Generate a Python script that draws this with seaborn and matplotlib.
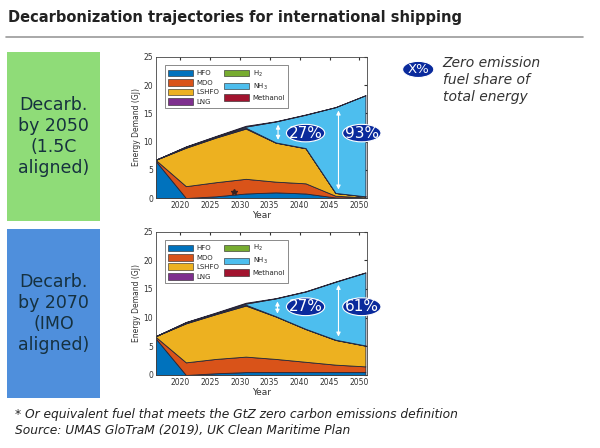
"""
Decarbonization trajectories for international shipping
Two stacked area charts (1.5C aligned vs IMO aligned)
"""

import matplotlib
matplotlib.use("Agg")
import matplotlib.pyplot as plt
from matplotlib.patches import Rectangle, Ellipse, Patch
import seaborn as sns

# ==========================================================
# Data
# ==========================================================

years = [2016, 2021, 2026, 2031, 2036, 2041, 2046, 2051]
fuels = ["HFO", "MDO", "LSHFO", "LNG", "H$_2$", "NH$_3$", "Methanol"]

# Decarb. by 2050 (1.5C aligned)
hfo_a = [6.5, 0.0, 0.3, 0.8, 1.0, 0.8, 0.1, 0.05]
mdo_a = [0.2, 2.1, 2.5, 2.6, 1.9, 1.8, 0.3, 0.05]
lshfo_a = [0.1, 6.8, 7.9, 8.9, 6.9, 6.2, 0.5, 0.2]
lng_a = [0.0, 0.1, 0.1, 0.15, 0.05, 0.05, 0.0, 0.0]
h2_a = [0.0, 0.0, 0.0, 0.0, 0.0, 0.0, 0.0, 0.0]
nh3_a = [0.0, 0.1, 0.1, 0.2, 3.7, 5.9, 15.2, 17.9]
meoh_a = [0.0, 0.05, 0.1, 0.15, 0.05, 0.05, 0.0, 0.0]

# Decarb. by 2070 (IMO aligned)
hfo_b = [6.3, 0.0, 0.3, 0.5, 0.5, 0.5, 0.5, 0.5]
mdo_b = [0.3, 2.2, 2.5, 2.7, 2.3, 1.8, 1.3, 1.0]
lshfo_b = [0.2, 6.8, 7.8, 8.9, 7.4, 5.7, 4.3, 3.6]
lng_b = [0.0, 0.1, 0.1, 0.15, 0.05, 0.05, 0.05, 0.05]
h2_b = [0.0, 0.0, 0.0, 0.0, 0.0, 0.0, 0.0, 0.0]
nh3_b = [0.0, 0.1, 0.1, 0.2, 3.1, 6.5, 10.1, 12.7]
meoh_b = [0.0, 0.05, 0.1, 0.15, 0.05, 0.05, 0.05, 0.05]

# zero emission share labels: (x, y, text), arrows: (x, y_top, y_bottom)
labels_a = [(2041.0, 11.5, "27%"), (2050.4, 11.5, "93%")]
arrows_a = [(2036.4, 13.5, 9.8), (2046.5, 16.0, 1.0)]
labels_b = [(2041.0, 11.9, "27%"), (2050.4, 11.9, "61%")]
arrows_b = [(2036.3, 13.3, 10.2), (2046.5, 16.2, 6.2)]

xticks = [2020, 2025, 2030, 2035, 2040, 2045, 2050]
yticks = [0, 5, 10, 15, 20, 25]

colors = ["#0072BD", "#D95319", "#EDB120", "#7E2F8E",
          "#77AC30", "#4DBEEE", "#A2142F"]
oval_color = "#0a2a9c"
text_color = "#16313f"

# ==========================================================
# Figure
# ==========================================================

sns.set_style("white")
plt.rcParams["font.family"] = ["DejaVu Sans"]

fig = plt.figure(figsize=(6, 4.48), dpi=100)

fig.text(0.013, 0.96, "Decarbonization trajectories for international shipping",
         fontsize=10.5, fontweight="bold", color="#222222", va="center")
fig.add_artist(plt.Line2D([0.01, 0.972], [0.918, 0.918],
                          color="#9a9a9a", lw=1.2))

# side boxes
fig.add_artist(Rectangle((0.012, 0.507), 0.155, 0.377,
                         facecolor="#8fdc78", edgecolor="none"))
fig.add_artist(Rectangle((0.012, 0.112), 0.155, 0.377,
                         facecolor="#4f8fdc", edgecolor="none"))
fig.text(0.089, 0.695, "Decarb.\nby 2050\n(1.5C\naligned)", ha="center",
         va="center", fontsize=12.5, color=text_color, linespacing=1.2)
fig.text(0.089, 0.30, "Decarb.\nby 2070\n(IMO\naligned)", ha="center",
         va="center", fontsize=12.5, color=text_color, linespacing=1.2)

# key on the right
fig.add_artist(Ellipse((0.697, 0.845), 0.052, 0.036,
                       facecolor=oval_color, edgecolor="white", lw=0.8))
fig.text(0.697, 0.845, "X%", ha="center", va="center", color="white",
         fontsize=9.5)
fig.text(0.738, 0.875, "Zero emission\nfuel share of\ntotal energy",
         ha="left", va="top", fontsize=10, style="italic", color="#333333",
         linespacing=1.25)

# footnotes
fig.text(0.025, 0.075,
         "* Or equivalent fuel that meets the GtZ zero carbon emissions definition",
         fontsize=8.8, style="italic", color="#222222", va="center")
fig.text(0.025, 0.038, "Source: UMAS GloTraM (2019), UK Clean Maritime Plan",
         fontsize=8.8, style="italic", color="#222222", va="center")


def draw_panel(ax, series, labels, arrows, star=False):
    ax.stackplot(years, *series, colors=colors,
                 edgecolor="#262638", linewidth=0.6)
    ax.set_xlim(2016, 2051.3)
    ax.set_ylim(0, 25)
    ax.set_xticks(xticks)
    ax.set_yticks(yticks)
    ax.tick_params(direction="in", length=2, labelsize=5.5, pad=2,
                   top=True, right=True, colors="#333333")
    ax.set_xlabel("Year", fontsize=6.5, labelpad=1, color="#333333")
    ax.set_ylabel("Energy Demand (GJ)", fontsize=5.5, labelpad=2,
                  color="#333333")
    for s in ax.spines.values():
        s.set_color("#444444")
        s.set_linewidth(0.6)

    for x, y0, y1 in arrows:
        ax.annotate("", xy=(x, y1), xytext=(x, y0),
                    arrowprops=dict(arrowstyle="<|-|>", color="white",
                                    lw=0.8, mutation_scale=6))
    for x, y, txt in labels:
        ax.add_patch(Ellipse((x, y), 6.4, 3.1, facecolor=oval_color,
                             edgecolor="white", lw=0.8, clip_on=False,
                             zorder=5))
        ax.text(x, y, txt, ha="center", va="center", color="white",
                fontsize=11, zorder=6, clip_on=False)
    if star:
        ax.plot([2029], [1.1], marker="*", color="#3a2020", markersize=4)

    handles = [Patch(facecolor=c, edgecolor="#222222", lw=0.4) for c in colors]
    leg = ax.legend(handles, fuels,
                    ncol=2, loc="upper left", bbox_to_anchor=(0.025, 0.965),
                    fontsize=5, frameon=True, fancybox=False,
                    handlelength=3.6, handleheight=1.1, columnspacing=0.7,
                    labelspacing=0.4, handletextpad=0.5, borderpad=0.45)
    leg.get_frame().set_edgecolor("#333333")
    leg.get_frame().set_linewidth(0.5)


ax1 = fig.add_axes([0.26, 0.558, 0.352, 0.315])
draw_panel(ax1, [hfo_a, mdo_a, lshfo_a, lng_a, h2_a, nh3_a, meoh_a],
           labels_a, arrows_a, star=True)

ax2 = fig.add_axes([0.26, 0.163, 0.352, 0.32])
draw_panel(ax2, [hfo_b, mdo_b, lshfo_b, lng_b, h2_b, nh3_b, meoh_b],
           labels_b, arrows_b)

fig.savefig("out.png", dpi=100)
